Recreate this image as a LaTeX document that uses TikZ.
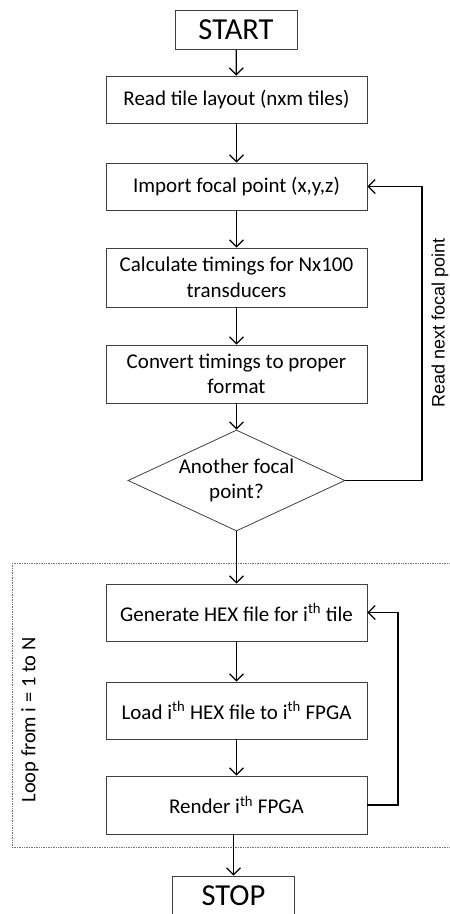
\documentclass[tikz,border=0pt]{standalone}
\usepackage{fontspec}
\setmainfont{Carlito}
\newfontfamily\arialfont{Liberation Sans}
\usetikzlibrary{shapes.geometric,arrows.meta}

% Shared looks of the flow chart
\tikzset{
  procbox/.style={draw=black!75, line width=0.8pt, minimum width=261pt, minimum height=47pt,
    inner sep=0pt, align=center, font=\fontsize{21}{25.5}\selectfont},
  termbox/.style={draw=black!75, line width=0.8pt, minimum width=122pt, minimum height=39pt,
    inner sep=0pt, font=\fontsize{30.5}{35}\selectfont},
  decision/.style={diamond, draw=black!75, line width=0.8pt, minimum width=217pt, minimum height=101pt,
    aspect=2.15, inner sep=0pt, align=center, font=\fontsize{21}{25.5}\selectfont},
  flowline/.style={line width=1.2pt, -{Straight Barb[length=7pt,width=14pt,line width=1.2pt]}},
  loopframe/.style={draw=black!55, line width=0.7pt, densely dotted},
}

\begin{document}
\begin{tikzpicture}[x=1pt, y=-1pt]
\useasboundingbox (0,0) rectangle (450,914);

% Frame of the tile loop
\draw[loopframe] (12,563) rectangle (455,847);

% Nodes, top to bottom
\node[termbox] (start) at (236,29.5) {START};
\node[procbox] (readtiles) at (236.5,99.5) {Read tile layout (nxm tiles)};
\node[procbox] (importfp) at (236.5,186.5) {Import focal point (x,y,z)};
\node[procbox, minimum height=59pt] (calctime) at (236.5,277.5) {Calculate timings for Nx100\\transducers};
\node[procbox, minimum height=58pt] (convtime) at (236.5,374) {Convert timings to proper\\format};
\node[decision] (anotherfp) at (236.5,480.5) {Another focal\\point?};
\node[procbox, minimum height=57pt] (genhex) at (236.5,612.5) {Generate HEX file for i\textsuperscript{th} tile};
\node[procbox, minimum height=57pt] (loadhex) at (236.5,710.5) {Load i\textsuperscript{th} HEX file to i\textsuperscript{th} FPGA};
\node[procbox, minimum height=58pt] (renderfpga) at (236.5,805) {Render i\textsuperscript{th} FPGA};
\node[termbox] (stop) at (233.5,895.5) {STOP};

% Side labels
\node[rotate=90, font=\arialfont\fontsize{18}{22}\selectfont] (readnext) at (440,323) {Read next focal point};
\node[rotate=90, font=\fontsize{20.5}{25}\selectfont] (looplabel) at (30,720) {Loop from i = 1 to N};

% Turning points of the two feedback loops
\coordinate (fpturn) at (422,480.5);
\coordinate (tileturn) at (398,805);

% Main flow
\draw[flowline] (start) -- (readtiles);
\draw[flowline] (readtiles) -- (importfp);
\draw[flowline] (importfp) -- (calctime);
\draw[flowline] (calctime) -- (convtime);
\draw[flowline] (convtime) -- (anotherfp);
\draw[flowline] (anotherfp) -- (genhex);
\draw[flowline] (genhex) -- (loadhex);
\draw[flowline] (loadhex) -- (renderfpga);
\draw[flowline] (renderfpga.south -| stop) -- (stop);

% Feedback loops
\draw[flowline] (anotherfp.east) -- (fpturn) |- (importfp.east);
\draw[flowline] (renderfpga.east) -- (tileturn) |- (genhex.east);
\end{tikzpicture}
\end{document}
